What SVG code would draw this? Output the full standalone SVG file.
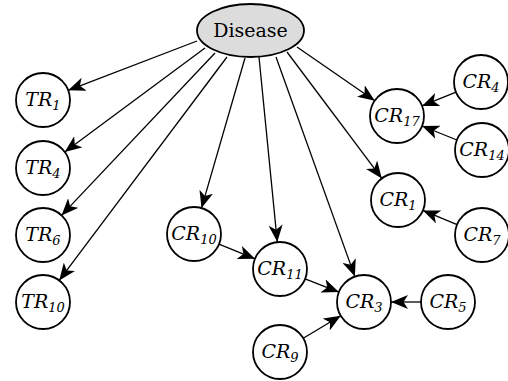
<svg xmlns="http://www.w3.org/2000/svg" width="508" height="381" viewBox="0 0 508 381">
<style>
.n{fill:#fff;stroke:#000;stroke-width:1.8}
.d{fill:#dcdcdc;stroke:#000;stroke-width:1.8}
.e{stroke:#000;stroke-width:1.3;fill:none;marker-end:url(#ah)}
.t{font-family:'DejaVu Serif',serif;font-size:19px;text-anchor:middle;fill:#000}
.i{font-style:italic}
.s{font-size:13px}
</style>
<defs>
<marker id="ah" markerUnits="userSpaceOnUse" markerWidth="18" markerHeight="14" refX="17" refY="7" orient="auto" viewBox="0 0 18 14">
<path d="M0,0 L17,7 L0,14 L4.5,7 z" fill="#000"/>
</marker>
</defs>
<rect width="508" height="381" fill="#fff"/>
<g id="connectors">
<line class="e" x1="197" y1="41" x2="68.2" y2="90.3"/>
<line class="e" x1="205" y1="48" x2="64.7" y2="151.9"/>
<line class="e" x1="215" y1="53" x2="61.5" y2="215.4"/>
<line class="e" x1="227" y1="57" x2="59.2" y2="280.4"/>
<line class="e" x1="245" y1="58" x2="201.5" y2="208.1"/>
<line class="e" x1="259" y1="57" x2="277.3" y2="242.1"/>
<line class="e" x1="276" y1="57" x2="354.9" y2="276.6"/>
<line class="e" x1="287" y1="52" x2="381.8" y2="178.4"/>
<line class="e" x1="297" y1="47" x2="374.8" y2="100.7"/>
<line class="e" x1="456" y1="92.1" x2="422" y2="105.9"/>
<line class="e" x1="456.9" y1="140" x2="422.1" y2="126"/>
<line class="e" x1="457.1" y1="224.6" x2="422.9" y2="210.4"/>
<line class="e" x1="219" y1="244.2" x2="255" y2="258.8"/>
<line class="e" x1="305.1" y1="278.9" x2="338.9" y2="292.1"/>
<line class="e" x1="421" y1="302" x2="391" y2="302"/>
<line class="e" x1="303.2" y1="338.2" x2="340.8" y2="315.8"/>
</g>
<g id="disease"><ellipse class="d" cx="250.5" cy="30.5" rx="53.5" ry="26.5"/><text class="t" x="250.5" y="37">Disease</text></g>
<g id="TR1"><circle class="n" cx="43" cy="100" r="27"/><text class="t i" x="43" y="106">TR<tspan class="s" dy="4">1</tspan></text></g>
<g id="TR4"><circle class="n" cx="43" cy="168" r="27"/><text class="t i" x="43" y="174">TR<tspan class="s" dy="4">4</tspan></text></g>
<g id="TR6"><circle class="n" cx="43" cy="235" r="27"/><text class="t i" x="43" y="241">TR<tspan class="s" dy="4">6</tspan></text></g>
<g id="TR10"><circle class="n" cx="43" cy="302" r="27"/><text class="t i" x="43" y="308">TR<tspan class="s" dy="4">10</tspan></text></g>
<g id="CR10"><circle class="n" cx="194" cy="234" r="27"/><text class="t i" x="194" y="240">CR<tspan class="s" dy="4">10</tspan></text></g>
<g id="CR11"><circle class="n" cx="280" cy="269" r="27"/><text class="t i" x="280" y="275">CR<tspan class="s" dy="4">11</tspan></text></g>
<g id="CR3"><circle class="n" cx="364" cy="302" r="27"/><text class="t i" x="364" y="308">CR<tspan class="s" dy="4">3</tspan></text></g>
<g id="CR5"><circle class="n" cx="448" cy="302" r="27"/><text class="t i" x="448" y="308">CR<tspan class="s" dy="4">5</tspan></text></g>
<g id="CR9"><circle class="n" cx="280" cy="352" r="27"/><text class="t i" x="280" y="358">CR<tspan class="s" dy="4">9</tspan></text></g>
<g id="CR1"><circle class="n" cx="398" cy="200" r="27"/><text class="t i" x="398" y="206">CR<tspan class="s" dy="4">1</tspan></text></g>
<g id="CR7"><circle class="n" cx="482" cy="235" r="27"/><text class="t i" x="482" y="241">CR<tspan class="s" dy="4">7</tspan></text></g>
<g id="CR17"><circle class="n" cx="397" cy="116" r="27"/><text class="t i" x="397" y="122">CR<tspan class="s" dy="4">17</tspan></text></g>
<g id="CR4"><circle class="n" cx="481" cy="82" r="27"/><text class="t i" x="481" y="88">CR<tspan class="s" dy="4">4</tspan></text></g>
<g id="CR14"><circle class="n" cx="482" cy="150" r="27"/><text class="t i" x="482" y="156">CR<tspan class="s" dy="4">14</tspan></text></g>
</svg>
